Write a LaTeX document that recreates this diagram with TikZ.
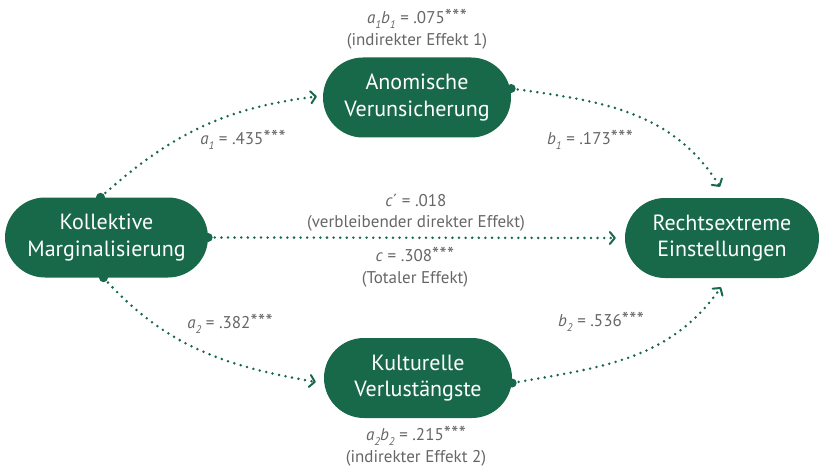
\documentclass[tikz,border=0pt]{standalone}
\usepackage{fontspec}
\setmainfont{PT Sans}
\usetikzlibrary{arrows.meta}
\definecolor{dgreen}{HTML}{18694A}
\definecolor{lgray}{HTML}{666666}
\newcommand\mysub[1]{\raisebox{-0.55ex}{\fontsize{11}{11}\selectfont\itshape #1}}
\newcommand\stars{{\fontsize{20}{20}\selectfont*\kern0.5pt*\kern0.5pt*}}
\begin{document}
\begin{tikzpicture}[x=1pt,y=1pt,
  box/.style={fill=dgreen, text=white, rounded corners=40pt, minimum height=80pt, align=center,
    font=\fontsize{22}{26.5}\selectfont, inner sep=0pt},
  knob/.style={circle, fill=dgreen, inner sep=0pt, minimum size=9pt},
  conn/.style={draw=dgreen, line width=2.8pt, line cap=round, dash pattern=on 0pt off 6.6pt,
    -{Straight Barb[length=5pt,width=12pt,line width=2pt,round]}},
  lab/.style={text=lgray, font=\fontsize{17}{21.5}\selectfont, align=center, inner sep=0pt}]
\useasboundingbox (0,0) rectangle (820,467);
% nodes
\node[box, minimum width=203pt] (K) at (106.5,229.5) {Kollektive\\Marginalisierung};
\node[box, minimum width=188pt] (A) at (417,369.5) {Anomische\\Verunsicherung};
\node[box, minimum width=188pt] (Ku) at (418,89) {Kulturelle\\Verlustängste};
\node[box, minimum width=194pt] (R) at (722,229) {Rechtsextreme\\Einstellungen};
% connector ends
\coordinate (tA) at ([xshift=-6pt,yshift=1pt]A.west);
\coordinate (tRn) at ([xshift=-2pt,yshift=11pt]R.north);
\coordinate (tRw) at ([xshift=-9pt]R.west);
\coordinate (tKu) at ([xshift=-8pt,yshift=-4pt]Ku.west);
\coordinate (tRs) at ([xshift=-1pt,yshift=-9pt]R.south);
% knobs
\node[knob] (kn1) at ([xshift=-6pt]K.north) {};
\node[knob] (kn2) at (K.east) {};
\node[knob] (kn3) at ([xshift=-3pt]K.south) {};
\node[knob] (kn4) at ([yshift=9pt]A.east) {};
\node[knob] (kn5) at ([yshift=-5pt]Ku.east) {};
% connectors
\draw[conn] (kn1.center) to[out=42,in=187] (tA);
\draw[conn] (kn4.center) to[out=-8,in=122] (tRn);
\draw[conn] (kn2.center) -- (tRw);
\draw[conn] (kn3.center) to[out=-48,in=170] (tKu);
\draw[conn] (kn5.center) to[out=10,in=-125] (tRs);
% labels
\node[lab] (l1) at (417,438) {\textit{a}\mysub{1}\textit{b}\mysub{1} = .075\stars\\(indirekter Effekt 1)};
\node[lab] (l2) at (243,327) {\textit{a}\mysub{1} = .435\stars};
\node[lab] (l3) at (590,327) {\textit{b}\mysub{1} = .173\stars};
\node[lab] (l4) at (416,254.5) {\textit{c}´ = .018\\(verbleibender direkter Effekt)};
\node[lab] (l5) at (415,200) {\textit{c} = .308\stars\\(Totaler Effekt)};
\node[lab] (l6) at (230,143) {\textit{a}\mysub{2} = .382\stars};
\node[lab] (l7) at (601,145) {\textit{b}\mysub{2} = .536\stars};
\node[lab] (l8) at (416,21) {\textit{a}\mysub{2}\textit{b}\mysub{2} = .215\stars\\(indirekter Effekt 2)};
\end{tikzpicture}
\end{document}
